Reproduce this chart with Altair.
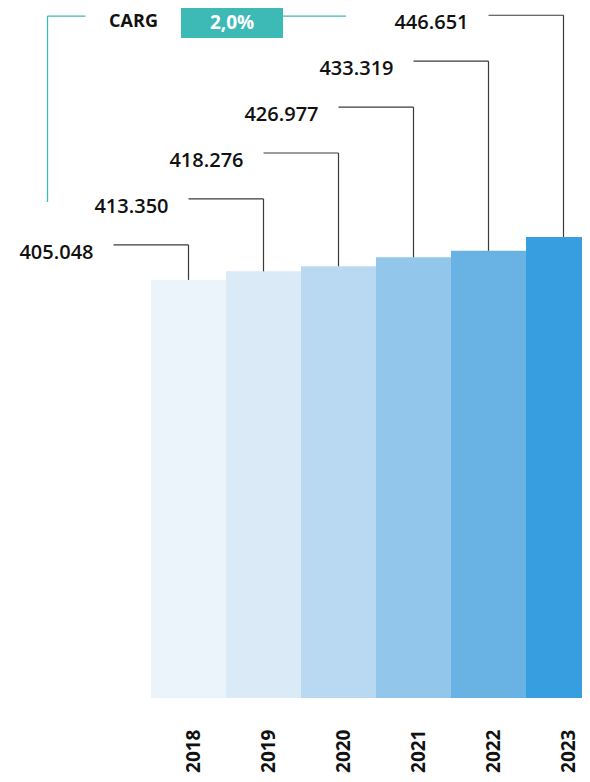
import altair as alt
import pandas as pd

# ---- data ----
years = ["2018", "2019", "2020", "2021", "2022", "2023"]
values = [405.048, 413.350, 418.276, 426.977, 433.319, 446.651]
value_labels = ["405.048", "413.350", "418.276", "426.977", "433.319", "446.651"]
bar_colors = ["#EBF3FB", "#DBEAF7", "#B8D9F1", "#93C6EB", "#69B3E4", "#379FDF"]
cagr_title = "CARG"
cagr_value = "2,0%"

# ---- layout helpers ----
n = len(years)
Y_MAX = 668.5
LEVEL_TOP = 661.5
LEVEL_STEP = 44.5
TEAL_LEVEL = 660.6
FONT = "Open Sans"
TEAL = "#3DBAB5"
LINE = "#3a3a3a"

df = pd.DataFrame({"year": years, "value": values, "label": value_labels,
                   "color": bar_colors, "i": list(range(n))})
df["x0"] = df["i"] - 0.5
df["x1"] = df["i"] + 0.5
df["prev"] = df["i"] - 1
df["base"] = 0.0
df["level"] = LEVEL_TOP - LEVEL_STEP * (n - 1 - df["i"])

x_scale = alt.Scale(domain=[-2.4067, 5.2467], nice=False, zero=False)
y_scale = alt.Scale(domain=[0, Y_MAX], nice=False, zero=False)
label_expr = "[" + ",".join("'%s'" % y for y in years) + "][datum.value]"
x_axis = alt.Axis(values=list(range(n)), labelExpr=label_expr, title=None,
                  domain=False, ticks=False, grid=False, labelAngle=270,
                  labelAlign="right", labelBaseline="middle", labelPadding=31,
                  labelOffset=5, labelFont=FONT, labelFontSize=19,
                  labelFontWeight="bold", labelColor="#111111",
                  labelOverlap=False, labelFlush=False)


def X(f):
    return alt.X(f, scale=x_scale, axis=x_axis)


def Y(f):
    return alt.Y(f, scale=y_scale, axis=None)


base = alt.Chart(df)

bars = base.mark_rect(clip=True).encode(
    x=X("x0:Q"), x2="x1:Q", y=Y("value:Q"), y2="base:Q",
    color=alt.Color("color:N", scale=None))

hlines = base.mark_rule(color=LINE, strokeWidth=1.2).encode(
    x=X("prev:Q"), x2="i:Q", y=Y("level:Q"))

vlines = base.mark_rule(color=LINE, strokeWidth=1.2).encode(
    x=X("i:Q"), y=Y("value:Q"), y2="level:Q")

texts = base.mark_text(align="right", baseline="alphabetic", dx=-20, dy=14,
                       font=FONT, fontSize=20, fontWeight=600,
                       color="#111111").encode(
    x=X("prev:Q"), y=Y("level:Q"), text="label:N")

# ---- CAGR annotation ----
ann = pd.DataFrame({
    "vx": [-1.88], "vy0": [480.6], "vy1": [TEAL_LEVEL],
    "hx0": [-1.88], "hx1": [-1.373],
    "tx": [-0.733], "bx0": [-0.1], "bx1": [1.26], "by0": [639.5],
    "by1": [Y_MAX], "vx2": [0.58], "rx0": [1.26], "rx1": [2.1],
    "lvl": [TEAL_LEVEL], "t1": [cagr_title], "t2": [cagr_value]})
a = alt.Chart(ann)

teal_v = a.mark_rule(color=TEAL, strokeWidth=1.3).encode(
    x=X("vx:Q"), y=Y("vy0:Q"), y2="vy1:Q")
teal_h = a.mark_rule(color=TEAL, strokeWidth=1.3).encode(
    x=X("hx0:Q"), x2="hx1:Q", y=Y("lvl:Q"))
teal_r = a.mark_rule(color=TEAL, strokeWidth=1.3).encode(
    x=X("rx0:Q"), x2="rx1:Q", y=Y("lvl:Q"))
box = a.mark_rect(color=TEAL).encode(
    x=X("bx0:Q"), x2="bx1:Q", y=Y("by0:Q"), y2="by1:Q")
cagr_t = a.mark_text(align="center", baseline="alphabetic", dy=11,
                     font=FONT, fontSize=18, fontWeight="bold",
                     color="#111111").encode(
    x=X("tx:Q"), y=Y("lvl:Q"), text="t1:N")
cagr_v = a.mark_text(align="center", baseline="alphabetic", dy=13,
                     font=FONT, fontSize=19, fontWeight="bold",
                     color="#FFFFFF").encode(
    x=X("vx2:Q"), y=Y("lvl:Q"), text="t2:N")

chart = alt.layer(bars, hlines, vlines, texts, teal_v, teal_h, teal_r, box,
                  cagr_t, cagr_v).properties(
    width=574, height=690, padding=0, background="white"
).configure_view(stroke=None)

chart.save("out.html", embed_options={"renderer": "svg", "actions": False})
